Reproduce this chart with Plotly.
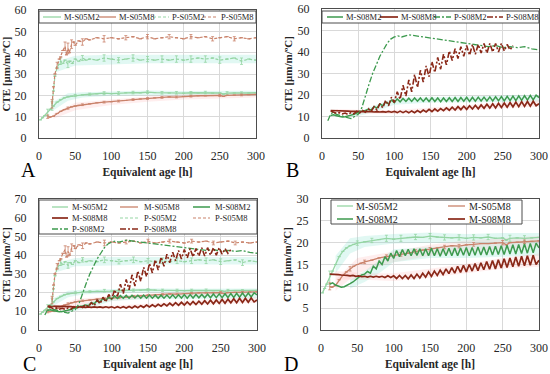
import plotly.graph_objects as go

W, H = 550, 374
FONT = "Liberation Serif"

# ---------------- data ----------------
x_m_s05m2 = [2, 5, 8, 12, 16, 20, 25, 30, 35, 40, 45, 50, 60, 70, 80, 90, 100, 110, 120, 130, 140,
             150, 160, 170, 180, 190, 200, 210, 220, 230, 240, 250, 255, 260, 270, 280, 290, 300]
y_m_s05m2 = [8.5, 9.5, 10.5, 12.0, 13.5, 15.0, 16.8, 18.0, 18.8, 19.3, 19.6, 19.9, 20.2, 20.5, 20.7, 21.0,
             20.8, 21.0, 21.2, 21.3, 21.2, 21.5, 21.3, 21.2, 21.1, 21.2, 21.0, 21.2, 21.1, 21.3, 21.0, 21.1,
             20.6, 21.0, 21.1, 21.0, 21.1, 21.2]
e_m_s05m2 = [None, None, None, 1.5, None, None, None, None, None, None, None, 0.5, None, 0.5, None, 0.7,
             None, 0.7, None, 0.6, None, 0.6, None, 0.6, None, 0.6, None, 0.6, None, 0.6, None, None,
             None, 0.7, None, 0.6, None, None]

x_m_s05m8 = [12, 15, 20, 25, 30, 35, 40, 45, 50, 55, 60, 70, 80, 90, 100, 110, 120, 130, 140, 150, 160,
             170, 180, 190, 200, 210, 220, 230, 240, 250, 255, 260, 270, 280, 290, 300]
y_m_s05m8 = [10.0, 9.8, 10.2, 11.5, 12.5, 13.3, 14.0, 14.6, 15.0, 15.3, 15.6, 16.0, 16.5, 16.8, 17.0, 17.3,
             17.6, 18.0, 18.3, 18.5, 18.8, 19.0, 19.3, 19.2, 19.5, 19.6, 19.8, 19.8, 19.9, 20.0, 19.5, 20.0,
             20.1, 20.2, 20.3, 20.4]
e_m_s05m8 = [0.8, None, None, None, None, None, 0.5, None, None, None, 0.4, None, None, 0.4, None, 0.4,
             None, 0.4, None, 0.4, None, 0.4, None, 0.4, None, 0.4, None, None, None, 0.5, None, None,
             None, 0.4, None, None]

x_m_s08 = [12, 16, 20, 24, 28, 32, 36, 40, 44, 48, 52, 56, 60, 64, 68, 72, 76, 80, 84, 88, 92, 96, 100,
           104, 108, 112, 116, 120, 124, 128, 132, 136, 140, 144, 148, 152, 156, 160, 164, 168, 172, 176,
           180, 184, 188, 192, 196, 200, 204, 208, 212, 216, 220, 224, 228, 232, 236, 240, 244, 248, 252,
           256, 260, 264, 268, 272, 276, 280, 284, 288, 292, 296, 300]
y_m_s08m2 = [10.5, 10.8, 10.3, 10.0, 9.8, 9.9, 10.2, 10.6, 11.0, 11.6, 12.2, 12.6, 12.8, 13.4, 13.0, 14.6,
             14.0, 15.8, 15.0, 16.8, 15.8, 17.6, 16.4, 18.2, 16.8, 18.4, 17.0, 18.5, 17.0, 18.6, 17.1, 18.6,
             17.0, 18.6, 17.0, 18.7, 17.0, 18.6, 16.9, 18.6, 17.0, 18.7, 17.0, 18.8, 17.0, 18.8, 17.1, 18.9,
             17.0, 18.9, 17.1, 19.0, 17.2, 19.0, 17.2, 19.1, 17.2, 19.2, 17.3, 19.3, 17.3, 19.4, 17.4, 19.5,
             17.4, 19.6, 17.5, 19.7, 17.6, 19.8, 17.7, 19.9, 18.8]
y_m_s08m8 = [12.8, 12.8, 12.7, 12.7, 12.6, 12.6, 12.5, 12.4, 12.5, 12.3, 12.4, 12.2, 12.3, 12.1, 12.3, 12.1,
             12.3, 12.1, 12.3, 12.0, 12.4, 12.0, 12.4, 11.8, 12.5, 11.8, 12.5, 11.7, 12.6, 11.8, 12.8, 11.9,
             13.0, 12.1, 13.3, 12.3, 13.5, 12.5, 13.7, 12.7, 14.0, 12.9, 14.3, 13.0, 14.6, 13.2, 14.8, 13.3,
             15.0, 13.5, 15.2, 13.6, 15.4, 13.8, 15.7, 13.9, 15.9, 14.0, 16.1, 14.2, 16.3, 14.3, 16.5, 14.5,
             16.7, 14.6, 16.9, 14.7, 17.0, 14.8, 17.1, 15.0, 16.0]

x_p_s05m2 = [18, 20, 22, 25, 28, 30, 33, 36, 40, 43, 46, 50, 55, 60, 65, 70, 80, 90, 100, 110, 120, 130,
             140, 150, 160, 170, 180, 190, 200, 210, 220, 230, 240, 250, 260, 270, 280, 290, 300]
y_p_s05m2 = [15, 22, 29, 33, 34.5, 36, 35, 36.5, 34.5, 36, 35, 37, 36, 37.5, 36.5, 37, 36.5, 37.5, 37, 36.5,
             37, 37.5, 36.5, 37, 36.5, 37, 36.5, 37, 36.5, 37, 37.5, 37, 37.5, 36.5, 37, 37.5, 36, 37, 36.5]
e_p_s05m2 = [2, None, None, None, None, 1.5, None, None, 1.5, None, None, None, None, 1.2, None, None,
             None, 1.5, None, 1.2, None, 1.5, None, 1.2, None, 1.5, None, 1.5, None, 1.5, None, 1.5, None,
             1.5, None, None, 1.5, None, None]

x_p_s05m8 = [18, 20, 22, 25, 28, 30, 33, 36, 38, 40, 42, 45, 48, 50, 55, 60, 65, 70, 80, 90, 100, 110, 120,
             130, 140, 150, 160, 170, 180, 190, 200, 210, 220, 230, 240, 250, 260, 270, 280, 290, 300]
y_p_s05m8 = [16, 24, 30, 34, 37, 38, 41, 43, 39, 42, 40, 44, 45, 43.5, 45.5, 45, 46.5, 46, 47, 46.5, 47,
             46.5, 47, 47.5, 46.5, 47.5, 46.5, 47, 47.5, 47, 46.5, 47.5, 47, 47.5, 46.5, 47, 47.5, 46.5, 47,
             46.5, 47]
e_p_s05m8 = [2, None, None, 1.5, None, None, None, 2, None, 2.5, None, 2, None, None, None, 1.5, None, None,
             None, 1.5, None, None, 1, None, None, 1, None, None, 1, None, None, 1, None, None, 1, None,
             None, 1, None, None, None]

x_p_s08m2 = [8, 12, 15, 20, 25, 30, 35, 40, 45, 50, 55, 60, 65, 70, 75, 80, 85, 90, 95, 100, 105, 110, 120,
             130, 140, 150, 160, 170, 180, 190, 200, 210, 220, 230, 240, 250, 260, 270, 280, 290, 300]
y_p_s08m2 = [8, 11, 12, 11, 10.5, 10, 9.5, 9, 10, 11, 14, 20, 25, 30, 34, 38, 41, 44, 46, 47, 47.5, 47, 48,
             47.5, 47, 46.5, 46, 45.5, 45, 44.5, 44, 43.5, 43, 42.5, 43, 42, 42.5, 42, 42.5, 41.5, 41]

x_p_s08m8 = [12, 16, 20, 24, 28, 32, 36, 40, 44, 48, 52, 56, 60, 64, 68, 72, 76, 80, 84, 88, 92, 96, 100,
             104, 108, 112, 116, 120, 124, 128, 132, 136, 140, 144, 148, 152, 156, 160, 164, 168, 172, 176,
             180, 184, 188, 192, 196, 200, 204, 208, 212, 216, 220, 224, 228, 232, 236, 240, 244, 248, 252,
             256, 260, 264]
y_p_s08m8 = [12.5, 12, 11.5, 11.8, 11.2, 11.6, 11.0, 11.8, 11.2, 12.4, 11.6, 12.8, 12.0, 13.6, 12.4, 14.6,
             13.0, 16.0, 14.0, 17.5, 15.0, 19.0, 16.5, 21.5, 18.0, 24.5, 19.5, 27.0, 21.5, 29.5, 23.5, 31.5,
             26.0, 33.5, 28.5, 35.5, 30.5, 37.5, 32.0, 39.0, 34.0, 40.5, 36.0, 41.5, 37.0, 42.5, 38.0, 43.0,
             38.5, 43.5, 39.0, 43.5, 39.5, 44.0, 39.5, 44.0, 40.0, 44.0, 40.0, 44.0, 40.5, 43.5, 41.0, 43.0]

# faint scatter bands (lower / upper envelopes)
bx_m_s05m2 = [20, 40, 60, 100, 150, 200, 250, 300]
bl_m_s05m2 = [13.0, 17.5, 19.0, 19.8, 20.0, 19.8, 19.8, 19.8]
bu_m_s05m2 = [17.0, 21.0, 21.5, 22.0, 22.3, 22.0, 22.2, 22.2]
bx_m_s05m8 = [20, 50, 100, 150, 200, 250, 300]
bl_m_s05m8 = [9.0, 13.0, 15.5, 17.0, 18.0, 18.5, 19.0]
bu_m_s05m8 = [11.5, 16.5, 18.0, 19.5, 20.5, 21.0, 21.5]
bx_m_s08m2 = [40, 60, 80, 100, 150, 200, 250, 300]
bl_m_s08m2 = [9.5, 11.0, 13.0, 15.5, 16.5, 16.5, 16.8, 17.0]
bu_m_s08m2 = [11.5, 13.5, 16.0, 18.5, 19.0, 19.5, 19.8, 20.0]
bx_m_s08m8 = [20, 60, 100, 150, 200, 250, 300]
bl_m_s08m8 = [11.5, 11.5, 11.2, 12.0, 13.0, 14.0, 14.5]
bu_m_s08m8 = [13.5, 13.0, 13.0, 14.0, 15.2, 16.5, 17.5]
bx_p_s05m2 = [25, 50, 100, 150, 200, 250, 300]
bl_p_s05m2 = [31.0, 34.0, 34.5, 35.0, 35.0, 35.0, 35.0]
bu_p_s05m2 = [36.0, 38.5, 39.0, 39.0, 39.0, 39.0, 39.0]

x_ticks = [0, 50, 100, 150, 200, 250, 300]

CYAN_BAND = "rgba(120,225,200,0.22)"
PINK_BAND = "rgba(255,150,150,0.16)"
BANDS = {
    "M-S05M2": (bx_m_s05m2, bl_m_s05m2, bu_m_s05m2, CYAN_BAND),
    "M-S05M8": (bx_m_s05m8, bl_m_s05m8, bu_m_s05m8, PINK_BAND),
    "M-S08M2": (bx_m_s08m2, bl_m_s08m2, bu_m_s08m2, CYAN_BAND),
    "M-S08M8": (bx_m_s08m8, bl_m_s08m8, bu_m_s08m8, PINK_BAND),
    "P-S05M2": (bx_p_s05m2, bl_p_s05m2, bu_p_s05m2, CYAN_BAND),
}

DASH_S05 = "3px,2px"
DASH_S08 = "6px,2px,2px,2px"
SERIES = {
    "M-S05M2": (x_m_s05m2, y_m_s05m2, e_m_s05m2, "#95d5a3", "solid", 1.3),
    "M-S05M8": (x_m_s05m8, y_m_s05m8, e_m_s05m8, "#c9826a", "solid", 1.3),
    "M-S08M2": (x_m_s08, y_m_s08m2, None, "#3d9a4e", "solid", 1.5),
    "M-S08M8": (x_m_s08, y_m_s08m8, None, "#8a2818", "solid", 1.7),
    "P-S05M2": (x_p_s05m2, y_p_s05m2, e_p_s05m2, "#95d5a3", DASH_S05, 1.2),
    "P-S05M8": (x_p_s05m8, y_p_s05m8, e_p_s05m8, "#c9826a", DASH_S05, 1.2),
    "P-S08M2": (x_p_s08m2, y_p_s08m2, None, "#3d9a4e", DASH_S08, 1.3),
    "P-S08M8": (x_p_s08m8, y_p_s08m8, None, "#8a2818", DASH_S08, 1.6),
}

# panel: (axis suffix, x px domain, y px domain, y max, y dtick, series, letter, letter pos)
PANELS = [
    ("", (39, 256), (10, 138), 60, 10, ["M-S05M2", "M-S05M8", "P-S05M2", "P-S05M8"], "A", (28, 170)),
    ("2", (322, 539), (9, 138), 60, 10, ["M-S08M2", "M-S08M8", "P-S08M2", "P-S08M8"], "B", (292, 170)),
    ("3", (39, 257), (199, 330), 70, 10, ["M-S05M2", "M-S05M8", "M-S08M2", "M-S08M8",
                                          "P-S05M2", "P-S05M8", "P-S08M2", "P-S08M8"], "C", (29, 364)),
    ("4", (321, 539), (199, 330), 30, 5, ["M-S05M2", "M-S05M8", "M-S08M2", "M-S08M8"], "D", (291, 364)),
]

LEGENDS = [
    ((39, 11, 256, 23), 8.5, [("M-S05M2", 43, 61, 62, 17), ("M-S05M8", 99, 116, 117, 17),
                              ("P-S05M2", 153, 169, 170, 17), ("P-S05M8", 203, 218, 219, 17)]),
    ((322, 11, 539, 23), 8.5, [("M-S08M2", 327, 343, 344, 17), ("M-S08M8", 380, 398, 399, 17),
                               ("P-S08M2", 434, 451, 452, 17), ("P-S08M8", 487, 503, 504, 17)]),
    ((39, 200, 257, 234), 8.5, [("M-S05M2", 52, 68, 70, 207), ("M-S05M8", 120, 138, 142, 207),
                                ("M-S08M2", 193, 210, 213, 207), ("M-S08M8", 52, 68, 70, 218),
                                ("P-S05M2", 120, 138, 142, 218), ("P-S05M8", 193, 210, 213, 218),
                                ("P-S08M2", 52, 68, 70, 229), ("P-S08M8", 120, 138, 142, 229)]),
    ((331, 200, 522, 224), 10, [("M-S05M2", 337, 353, 354, 206), ("M-S05M8", 448, 465, 467, 206),
                                ("M-S08M2", 337, 353, 354, 219), ("M-S08M8", 448, 465, 467, 219)]),
]


def px(x):
    return x / W


def py(y):
    return 1 - y / H


fig = go.Figure()
layout = dict(
    width=W, height=H, margin=dict(l=0, r=0, t=0, b=0),
    paper_bgcolor="white", plot_bgcolor="white", showlegend=False,
    font=dict(family=FONT, color="#262626", size=12),
)
annotations = []
shapes = []

for suffix, (x0, x1), (y0, y1), ymax, dtick, names, letter, (lx, ly) in PANELS:
    xa, ya = "x" + suffix, "y" + suffix
    # bands first (underneath the lines)
    for n in names:
        if n in BANDS:
            bx, bl, bu, bcol = BANDS[n]
            fig.add_trace(go.Scatter(x=bx, y=bl, mode="lines", line=dict(width=0, color=bcol),
                                     hoverinfo="skip", xaxis=xa, yaxis=ya))
            fig.add_trace(go.Scatter(x=bx, y=bu, mode="lines", line=dict(width=0, color=bcol),
                                     fill="tonexty", fillcolor=bcol, hoverinfo="skip",
                                     xaxis=xa, yaxis=ya))
    for n in names:
        xs, ys, es, color, dash, width = SERIES[n]
        err = None
        if es is not None:
            err = dict(type="data", array=es, visible=True, color=color, thickness=0.8, width=1.5)
        fig.add_trace(go.Scatter(x=xs, y=ys, mode="lines", name=n, error_y=err,
                                 line=dict(color=color, dash=dash, width=width),
                                 xaxis=xa, yaxis=ya))
    axis_common = dict(showline=True, mirror=True, linecolor="#4d4d4d", linewidth=1,
                       showgrid=True, gridcolor="#d9d9d9", gridwidth=1, zeroline=False,
                       automargin=False, ticks="",
                       tickfont=dict(family=FONT, size=12, color="#262626"))
    layout["xaxis" + suffix] = dict(
        axis_common, domain=[px(x0), px(x1)], range=[0, 300], tickvals=x_ticks,
        anchor=ya, ticklabelstandoff=7,
        title=dict(text="<b>Equivalent age [h]</b>", font=dict(family=FONT, size=11.5), standoff=5))
    layout["yaxis" + suffix] = dict(
        axis_common, domain=[py(y1), py(y0)], range=[0, ymax], dtick=dtick,
        anchor=xa, ticklabelstandoff=9,
        title=dict(text="<b>CTE [μm/m/ºC]</b>", font=dict(family=FONT, size=11), standoff=2))
    annotations.append(dict(text=letter, x=px(lx), y=py(ly), xref="paper", yref="paper",
                            showarrow=False, xanchor="center", yanchor="middle",
                            font=dict(family=FONT, size=20, color="#000000")))

for (bx0, by0, bx1, by1), fsize, items in LEGENDS:
    shapes.append(dict(type="rect", xref="paper", yref="paper", x0=px(bx0), x1=px(bx1),
                       y0=py(by1), y1=py(by0), line=dict(color="#4d4d4d", width=1),
                       fillcolor="white", layer="above"))
    for n, lx0, lx1, tx, ty in items:
        _, _, _, color, dash, width = SERIES[n]
        shapes.append(dict(type="line", xref="paper", yref="paper", x0=px(lx0), x1=px(lx1),
                           y0=py(ty), y1=py(ty), line=dict(color=color, dash=dash, width=width),
                           layer="above"))
        annotations.append(dict(text=n, x=px(tx), y=py(ty), xref="paper", yref="paper",
                                showarrow=False, xanchor="left", yanchor="middle",
                                font=dict(family=FONT, size=fsize, color="#262626")))

layout["annotations"] = annotations
layout["shapes"] = shapes
fig.update_layout(**layout)
# remove the browser's default 8px page margin so the 550x374 figure fills the window exactly
fig.write_html("out.html", config={"displayModeBar": False},
               post_script="document.body.style.margin='0';document.body.style.overflow='hidden';")
